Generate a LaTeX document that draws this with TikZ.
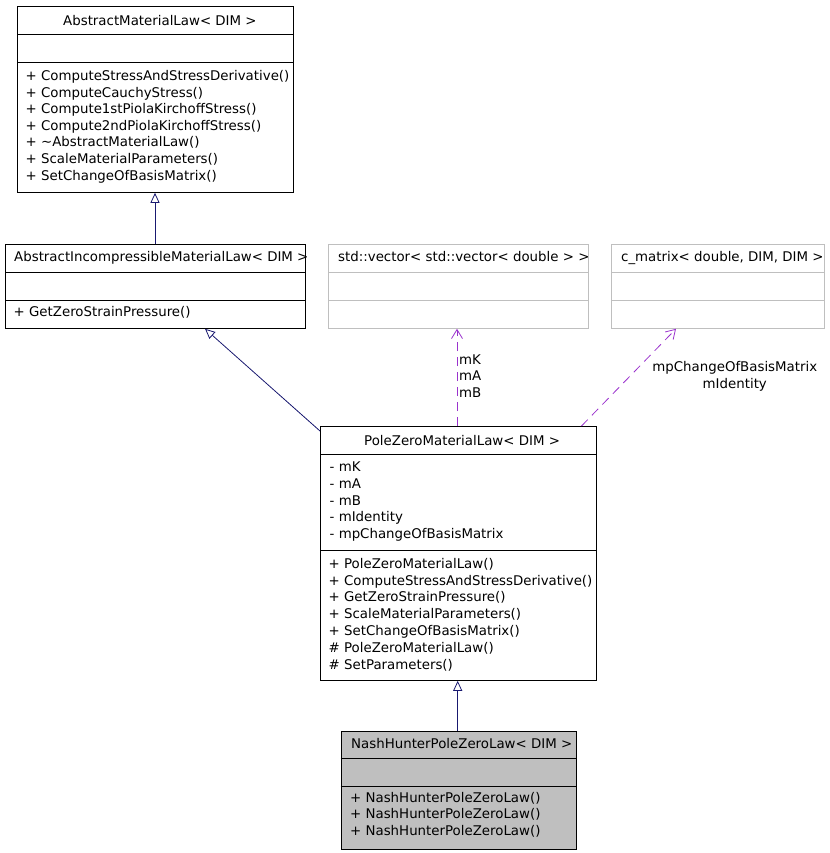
\documentclass[tikz,border=0pt]{standalone}
\usepackage{fontspec}
\setmainfont{DejaVu Sans}
\usetikzlibrary{arrows.meta}
\definecolor{edgeblue}{HTML}{191970}
\definecolor{usepurple}{HTML}{9A32CD}
\definecolor{boxgray}{HTML}{BFBFBF}
\begin{document}
\begin{tikzpicture}[x=1pt,y=-1pt,
  umlbox/.style={draw=black, line width=0.8pt, inner sep=0, anchor=north west},
  extbox/.style={draw=boxgray, line width=0.8pt, inner sep=0, anchor=north west},
  sepline/.style={line width=0.8pt},
  txt/.style={inner sep=0, anchor=base west, font=\fontsize{13.35}{16}\selectfont},
  lbl/.style={inner sep=0, font=\fontsize{13.35}{16}\selectfont},
  inh/.style={draw=edgeblue, line width=0.8pt, -{Triangle[open, length=10pt, width=9pt, fill=white]}},
  usearrow/.style={draw=usepurple, line width=0.8pt, dash pattern=on 9pt off 6pt, -{Straight Barb[length=9pt, width=11pt]}}
]
\useasboundingbox (0,0) rectangle (829,853);

% Box A
\node[umlbox, minimum width=276pt, minimum height=186pt] (A) at (17,6) {};
\draw[sepline] (A.west |- 0,34) -- (A.east |- 0,34);
\draw[sepline] (A.west |- 0,62) -- (A.east |- 0,62);
\node[txt] (At) at (63,25.5) {AbstractMaterialLaw< DIM >};
\foreach \t [count=\i from 0] in {+ ComputeStressAndStressDerivative(), + ComputeCauchyStress(), + Compute1stPiolaKirchoffStress(), + Compute2ndPiolaKirchoffStress(), + \textasciitilde AbstractMaterialLaw(), + ScaleMaterialParameters(), + SetChangeOfBasisMatrix()}
  \node[txt] (Am\i) at (25.5,{80.5+16.6*\i}) {\t};

% Box B
\node[umlbox, minimum width=300pt, minimum height=84pt] (B) at (5,244) {};
\draw[sepline] (B.west |- 0,272) -- (B.east |- 0,272);
\draw[sepline] (B.west |- 0,300) -- (B.east |- 0,300);
\node[txt] (Bt) at (14,261.7) {AbstractIncompressibleMaterialLaw< DIM >};
\node[txt] (Bm0) at (13.5,316) {+ GetZeroStrainPressure()};

% Box C
\node[extbox, minimum width=260pt, minimum height=84pt] (C) at (328,244) {};
\draw[boxgray, sepline] (C.west |- 0,272) -- (C.east |- 0,272);
\draw[boxgray, sepline] (C.west |- 0,300) -- (C.east |- 0,300);
\node[txt] (Ct) at (338,261.7) {std::vector< std::vector< double > >};

% Box D
\node[extbox, minimum width=213pt, minimum height=84pt] (D) at (611,244) {};
\draw[boxgray, sepline] (D.west |- 0,272) -- (D.east |- 0,272);
\draw[boxgray, sepline] (D.west |- 0,300) -- (D.east |- 0,300);
\node[txt] (Dt) at (621,261.7) {c\_matrix< double, DIM, DIM >};

% Box E
\node[umlbox, minimum width=276pt, minimum height=254pt] (E) at (320,426) {};
\draw[sepline] (E.west |- 0,454) -- (E.east |- 0,454);
\draw[sepline] (E.west |- 0,550) -- (E.east |- 0,550);
\node[txt] (Et) at (364,445) {PoleZeroMaterialLaw< DIM >};
\foreach \t [count=\i from 0] in {- mK, - mA, - mB, - mIdentity, - mpChangeOfBasisMatrix}
  \node[txt] (Ea\i) at (329.5,{471.7+16.65*\i}) {\t};
\foreach \t [count=\i from 0] in {+ PoleZeroMaterialLaw(), + ComputeStressAndStressDerivative(), + GetZeroStrainPressure(), + ScaleMaterialParameters(), + SetChangeOfBasisMatrix(), \# PoleZeroMaterialLaw(), \# SetParameters()}
  \node[txt] (Em\i) at (328.5,{568.3+16.8*\i}) {\t};

% Box F
\node[umlbox, fill=boxgray, minimum width=235pt, minimum height=118pt] (F) at (340.5,730.5) {};
\draw[sepline] (F.west |- 0,758.5) -- (F.east |- 0,758.5);
\draw[sepline] (F.west |- 0,786.5) -- (F.east |- 0,786.5);
\node[txt] (Ft) at (351,748.3) {NashHunterPoleZeroLaw< DIM >};
\foreach \t [count=\i from 0] in {+ NashHunterPoleZeroLaw(), + NashHunterPoleZeroLaw(), + NashHunterPoleZeroLaw()}
  \node[txt] (Fm\i) at (350,{802+16.7*\i}) {\t};

% Connectors
\draw[inh] (B.north -| 155,0) -- (A.south -| 155,0);
\draw[inh] (E.north west |- 0,431) -- (B.south -| 205,0);
\draw[inh] (F.north -| 457.7,0) -- (E.south -| 457.7,0);
\draw[usearrow] (E.north -| 457,0) -- (C.south -| 457,0);
\draw[usearrow] (E.north -| 581.5,0) -- (D.south -| 676,0);

% Labels
\node[txt] (L1) at (459,364) {mK};
\node[txt] (L2) at (459,380.7) {mA};
\node[txt] (L3) at (459,397.3) {mB};
\node[lbl, anchor=base] (L4) at (734.8,371.3) {mpChangeOfBasisMatrix};
\node[lbl, anchor=base] (L5) at (734.8,388.3) {mIdentity};
\end{tikzpicture}
\end{document}
